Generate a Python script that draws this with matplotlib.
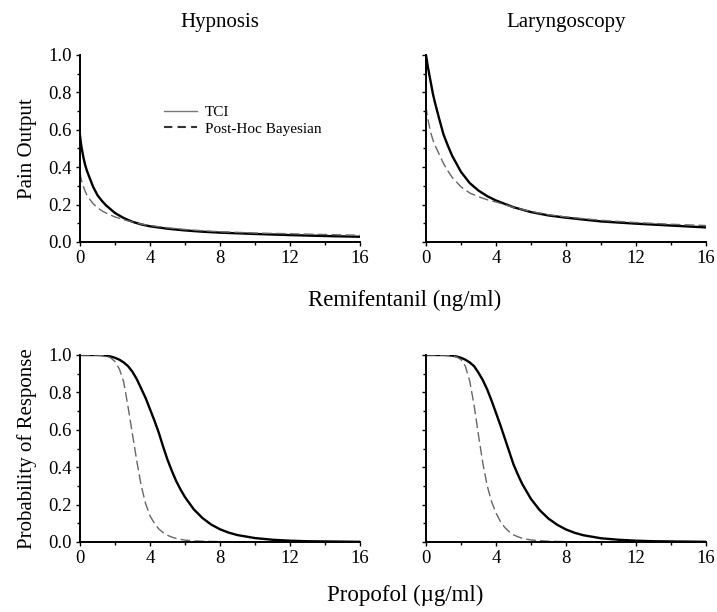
import numpy as np
import matplotlib
matplotlib.use("Agg")
import matplotlib.pyplot as plt
from matplotlib.ticker import MultipleLocator
from matplotlib.lines import Line2D

plt.rcParams['font.family'] = ['Liberation Serif', 'DejaVu Serif']

# remifentanil concentrations (ng/ml) and pain output
remi_x = [0, 0.05, 0.1, 0.2, 0.3, 0.4, 0.5, 0.75, 1, 1.25, 1.5, 2, 2.5, 3, 3.5, 4,
          5, 6, 7, 8, 10, 12, 14, 16]
hyp_tci = [0.57, 0.53, 0.50, 0.45, 0.41, 0.38, 0.355, 0.295, 0.25, 0.22, 0.195, 0.155,
           0.128, 0.108, 0.094, 0.084, 0.071, 0.062, 0.055, 0.05, 0.043, 0.037, 0.032, 0.028]
hyp_bay = [0.37, 0.345, 0.325, 0.295, 0.27, 0.25, 0.235, 0.205, 0.183, 0.167, 0.154, 0.134,
           0.119, 0.107, 0.096, 0.088, 0.076, 0.067, 0.06, 0.055, 0.048, 0.044, 0.04, 0.036]
lar_tci = [1.0, 0.97, 0.94, 0.89, 0.84, 0.79, 0.75, 0.66, 0.575, 0.515, 0.46, 0.375,
           0.315, 0.275, 0.245, 0.222, 0.186, 0.16, 0.142, 0.13, 0.11, 0.098, 0.088, 0.078]
lar_bay = [0.73, 0.69, 0.66, 0.615, 0.575, 0.545, 0.52, 0.47, 0.42, 0.38, 0.345, 0.295,
           0.262, 0.242, 0.226, 0.214, 0.185, 0.163, 0.146, 0.134, 0.116, 0.104, 0.095, 0.088]

# propofol concentrations (ug/ml) and probability of response
prop_x = [0, 1, 1.5, 1.75, 2, 2.25, 2.5, 2.75, 3, 3.25, 3.5, 3.75, 4, 4.25, 4.5, 4.75,
          5, 5.25, 5.5, 5.75, 6, 6.5, 7, 7.5, 8, 8.5, 9, 10, 11, 12, 13, 14, 16]
hypp_tci = [1.0, 1.0, 0.997, 0.992, 0.985, 0.975, 0.96, 0.94, 0.91, 0.87, 0.82, 0.77,
            0.71, 0.65, 0.585, 0.51, 0.44, 0.38, 0.325, 0.28, 0.24, 0.175, 0.128, 0.093,
            0.068, 0.05, 0.037, 0.021, 0.012, 0.007, 0.004, 0.003, 0.001]
hypp_bay = [1.0, 1.0, 0.995, 0.985, 0.965, 0.925, 0.855, 0.72, 0.575, 0.43, 0.30, 0.205,
            0.14, 0.10, 0.07, 0.05, 0.036, 0.026, 0.019, 0.014, 0.01, 0.006, 0.004, 0.003,
            0.002, 0.001, 0.001, 0, 0, 0, 0, 0, 0]
larp_tci = [1.0, 1.0, 0.997, 0.992, 0.985, 0.975, 0.96, 0.94, 0.905, 0.865, 0.815, 0.755,
            0.69, 0.625, 0.555, 0.485, 0.415, 0.36, 0.31, 0.27, 0.23, 0.17, 0.125, 0.092,
            0.067, 0.049, 0.036, 0.02, 0.012, 0.007, 0.004, 0.003, 0.001]
larp_bay = [1.0, 1.0, 0.997, 0.99, 0.975, 0.94, 0.86, 0.73, 0.57, 0.42, 0.30, 0.215,
            0.155, 0.11, 0.078, 0.055, 0.038, 0.028, 0.02, 0.015, 0.011, 0.007, 0.004, 0.003,
            0.002, 0.001, 0.001, 0, 0, 0, 0, 0, 0]

titles = ["Hypnosis", "Laryngoscopy"]

fig = plt.figure(figsize=(7.17, 6.12), dpi=100)
w, h = 280 / 717, 187 / 612
lefts = [80 / 717, 426 / 717]
bottoms = [1 - 242 / 612, 1 - 542 / 612]

panels = [
    (remi_x, hyp_tci, hyp_bay), (remi_x, lar_tci, lar_bay),
    (prop_x, hypp_tci, hypp_bay), (prop_x, larp_tci, larp_bay),
]

axes = []
for i, (x, tci, bay) in enumerate(panels):
    r, c = divmod(i, 2)
    ax = fig.add_axes([lefts[c], bottoms[r], w, h])
    ax.plot(x, tci, color='black', lw=1.7)
    ax.plot(x, bay, color='#666666', lw=1.0, dashes=(7, 3))
    ax.set_xlim(0, 16)
    ax.set_ylim(0, 1.0)
    ax.xaxis.set_major_locator(MultipleLocator(4))
    ax.xaxis.set_minor_locator(MultipleLocator(2))
    ax.yaxis.set_major_locator(MultipleLocator(0.2))
    ax.yaxis.set_minor_locator(MultipleLocator(0.1))
    for s in ['top', 'right']:
        ax.spines[s].set_visible(False)
    for s in ['left', 'bottom']:
        ax.spines[s].set_linewidth(1.4)
    ax.tick_params(which='major', direction='out', length=3, width=1, labelsize=13.5, pad=3)
    ax.tick_params(which='minor', direction='out', length=2, width=1)
    if c == 0:
        ax.yaxis.set_major_formatter(plt.FuncFormatter(lambda v, p: f"{v:.1f}"))
    else:
        ax.tick_params(labelleft=False)
    if r == 0:
        ax.set_title(titles[c], fontsize=15, pad=20)
    axes.append(ax)

axes[0].set_ylabel("Pain Output", fontsize=15)
axes[2].set_ylabel("Probability of Response", fontsize=15)
for ax in (axes[0], axes[2]):
    ax.yaxis.set_label_coords(-0.155, 0.5)

handles = [Line2D([], [], color='#777777', lw=1.0),
           Line2D([], [], color='#333333', lw=1.5, dashes=(4, 2.5))]
axes[0].legend(handles, ['TCI', 'Post-Hoc Bayesian'], loc='upper left',
               bbox_to_anchor=(0.25, 0.805), frameon=False, fontsize=11,
               handlelength=2.2, handletextpad=0.5, labelspacing=0.2)

fig.text(405 / 717, 1 - 300 / 612, "Remifentanil (ng/ml)", ha='center', va='center', fontsize=16.5)
fig.text(405 / 717, 1 - 595 / 612, "Propofol (\u00b5g/ml)", ha='center', va='center', fontsize=16.5)

fig.savefig("out.png", dpi=100)
